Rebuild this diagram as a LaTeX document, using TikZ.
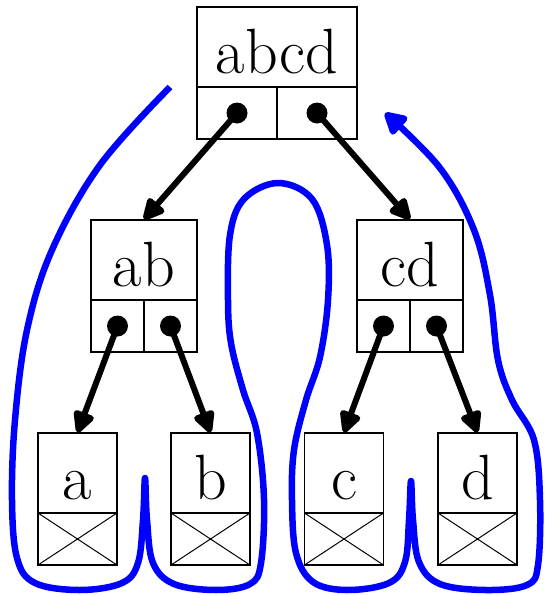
\documentclass[tikz,border=0pt]{standalone}
\usepackage{fontspec}
\setmainfont{Latin Modern Roman}
\usetikzlibrary{arrows.meta}
\begin{document}
\begin{tikzpicture}[x=1pt,y=-1pt,
  lbl/.style={draw,line width=1.2pt,inner sep=0pt,text height=66pt,text depth=14pt,font=\fontsize{64}{70}\selectfont},
  cell/.style={draw,line width=1.2pt,inner sep=0pt,minimum height=52pt},
  xcell/.style={cell,minimum width=79pt,path picture={\draw[line width=1pt] (path picture bounding box.north west)--(path picture bounding box.south east) (path picture bounding box.north east)--(path picture bounding box.south west);}},
  dot/.style={circle,fill,inner sep=0pt,minimum size=21pt},
  ptr/.style={line width=6pt,-{Triangle[length=25pt,width=23pt,round]}},
  tour/.style={blue,line width=6.5pt,line join=round,-{Triangle[length=25pt,width=26pt,round]}}]
\useasboundingbox (0,0) rectangle (545,595);
% root
\node[lbl,minimum width=160pt] (abcd) at (277,47) {abcd};
\node[cell,minimum width=80pt] (abcdl) at (237,113) {};
\node[cell,minimum width=80pt] (abcdr) at (317,113) {};
% ab
\node[lbl,minimum width=106pt] (ab) at (144,260) {ab};
\node[cell,minimum width=53pt] (abl) at (117.5,326) {};
\node[cell,minimum width=53pt] (abr) at (170.5,326) {};
% cd
\node[lbl,minimum width=106pt] (cd) at (410,260) {cd};
\node[cell,minimum width=53pt] (cdl) at (383.5,326) {};
\node[cell,minimum width=53pt] (cdr) at (436.5,326) {};
% leaves
\node[lbl,minimum width=79pt] (a) at (77.5,473) {a};
\node[xcell] (ax) at (77.5,539) {};
\node[lbl,minimum width=79pt] (b) at (210.5,473) {b};
\node[xcell] (bx) at (210.5,539) {};
\node[lbl,minimum width=79pt] (c) at (344,473) {c};
\node[xcell] (cx) at (344,539) {};
\node[lbl,minimum width=79pt] (d) at (477.5,473) {d};
\node[xcell] (dx) at (477.5,539) {};
% dots
\node[dot] (d1) at (abcdl.center) {};
\node[dot] (d2) at (abcdr.center) {};
\node[dot] (d3) at (abl.center) {};
\node[dot] (d4) at (abr.center) {};
\node[dot] (d5) at (cdl.center) {};
\node[dot] (d6) at (cdr.center) {};
% pointers
\draw[ptr] (d1.center) -- (ab.north);
\draw[ptr] (d2.center) -- (cd.north);
\draw[ptr] (d3.center) -- (a.north);
\draw[ptr] (d4.center) -- (b.north);
\draw[ptr] (d5.center) -- (c.north);
\draw[ptr] (d6.center) -- (d.north);
% tour
\draw[tour] plot[smooth,tension=0.6] coordinates {
 (170,87) (100,165) (52,250) (27,330) (15,420) (12,500) (17,558) (35,583) (80,590) (122,583) (138,563) (143,520) (145,478) (147,520) (153,563) (174,584) (216,590) (250,584) (261,563) (264,499) (257,433) (243,390) (231,343) (228,300) (230,235) (244,199) (278,183) (312,199) (327,245) (328,300) (320,357) (306,400) (294,450) (292,500) (296,553) (313,582) (347,590) (389,583) (405,562) (409,520) (411,481) (413,520) (419,562) (440,584) (486,590) (527,585) (538,565) (540,500) (534,440) (512,400) (498,360) (490,295) (474,230) (440,168) (385,113)};
\end{tikzpicture}
\end{document}
